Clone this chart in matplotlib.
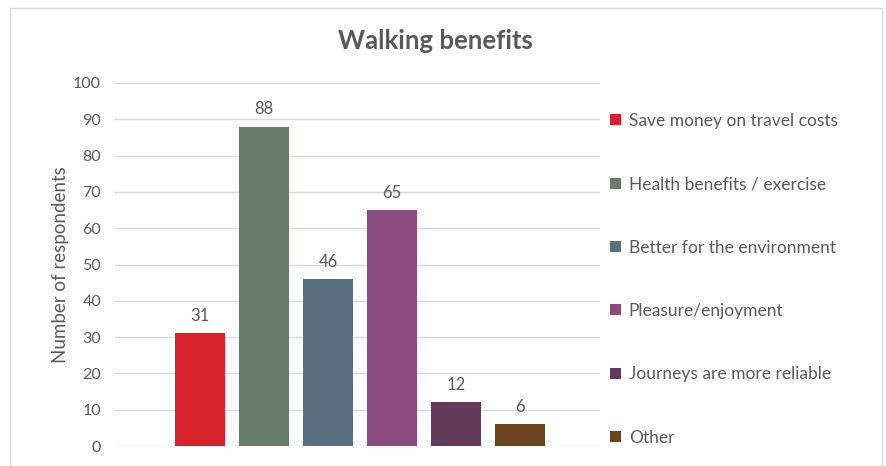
import matplotlib.pyplot as plt
from matplotlib.patches import Patch, Rectangle

categories = ['Save money on travel costs', 'Health benefits / exercise',
              'Better for the environment', 'Pleasure/enjoyment',
              'Journeys are more reliable', 'Other']
values = [31, 88, 46, 65, 12, 6]
colors = ['#D7222B', '#667C6D', '#576F7F', '#8B4B7F', '#623A5A', '#6C4520']
yticks = list(range(0, 101, 10))

text_grey = '#595959'
plt.rcParams['font.family'] = ['Lato', 'DejaVu Sans']

fig = plt.figure(figsize=(8.86, 4.66), dpi=100)
ax = fig.add_axes([0.1298, 0.0429, 0.5472, 0.779])

# chart frame
fig.patches.append(Rectangle((0.011, 0.0), 0.984, 0.983, transform=fig.transFigure,
                             fill=False, edgecolor='#D9D9D9', linewidth=1))

x = list(range(len(values)))
bars = ax.bar(x, values, width=0.78, color=colors, zorder=3)
for b, v in zip(bars, values):
    ax.text(b.get_x() + b.get_width() / 2, v + 2.5, str(v), ha='center', va='bottom',
            fontsize=12, color=text_grey)

ax.set_xlim(-1.33, 6.25)
ax.set_ylim(0, 100)
ax.set_yticks(yticks)
ax.set_xticks([])
ax.yaxis.grid(True, color='#D9D9D9', linewidth=1, zorder=0)
for s in ax.spines.values():
    s.set_visible(False)
ax.tick_params(axis='y', length=0, pad=10, labelsize=11.5, labelcolor=text_grey)
ax.set_ylabel('Number of respondents', fontsize=13.5, color=text_grey)
ax.yaxis.set_label_coords(-0.094, 0.5)

fig.text(0.492, 0.912, 'Walking benefits', ha='center', va='center',
         fontsize=18.5, fontweight='bold', color=text_grey)

handles = [Patch(facecolor=c, edgecolor='none') for c in colors]
fig.legend(handles, categories, loc='upper left', bbox_to_anchor=(0.689, 0.758),
           frameon=False, fontsize=12.5, labelcolor=text_grey,
           handlelength=0.6, handleheight=0.6, handletextpad=0.45,
           labelspacing=2.73, borderpad=0, borderaxespad=0)

fig.savefig('out.png', dpi=100)
